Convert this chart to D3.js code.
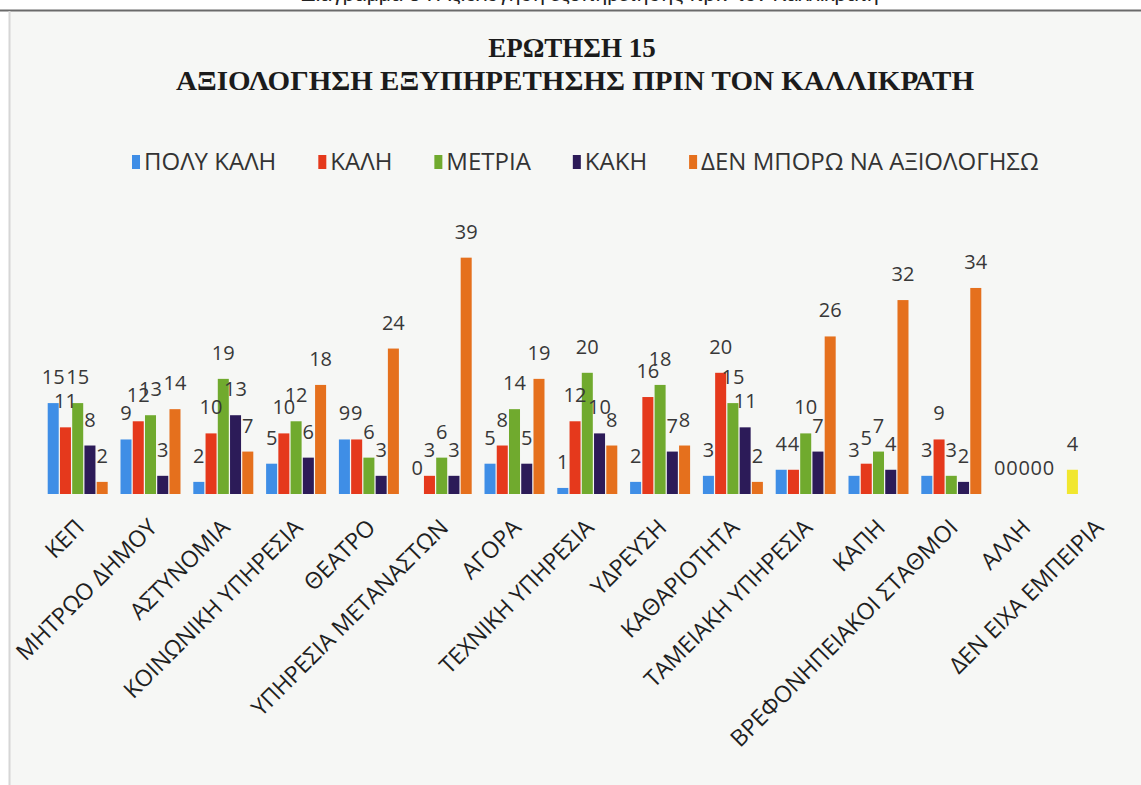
<!DOCTYPE html>
<html>
<head>
<meta charset="utf-8">
<script src="https://cdn.jsdelivr.net/npm/d3@7"></script>
<style>
  html, body { margin: 0; padding: 0; background: #ffffff; }
  svg { display: block; }
</style>
</head>
<body>
<div id="chart"></div>
<script>
// κατηγορίες (άξονας x)
const categories = [
  "ΚΕΠ", "ΜΗΤΡΩΟ ΔΗΜΟΥ", "ΑΣΤΥΝΟΜΙΑ", "ΚΟΙΝΩΝΙΚΗ ΥΠΗΡΕΣΙΑ", "ΘΕΑΤΡΟ",
  "ΥΠΗΡΕΣΙΑ ΜΕΤΑΝΑΣΤΩΝ", "ΑΓΟΡΑ", "ΤΕΧΝΙΚΗ ΥΠΗΡΕΣΙΑ", "ΥΔΡΕΥΣΗ", "ΚΑΘΑΡΙΟΤΗΤΑ",
  "ΤΑΜΕΙΑΚΗ ΥΠΗΡΕΣΙΑ", "ΚΑΠΗ", "ΒΡΕΦΟΝΗΠΕΙΑΚΟΙ ΣΤΑΘΜΟΙ", "ΑΛΛΗ", "ΔΕΝ ΕΙΧΑ ΕΜΠΕΙΡΙΑ"
];

// σειρές
const seriesNames = ["ΠΟΛΥ ΚΑΛΗ", "ΚΑΛΗ", "ΜΕΤΡΙΑ", "ΚΑΚΗ", "ΔΕΝ ΜΠΟΡΩ ΝΑ ΑΞΙΟΛΟΓΗΣΩ"];
const polyKali  = [15, 9, 2, 5, 9, 0, 5, 1, 2, 3, 4, 3, 3, 0, 4];
const kali      = [11, 12, 10, 10, 9, 3, 8, 12, 16, 20, 4, 5, 9, 0, null];
const metria    = [15, 13, 19, 12, 6, 6, 14, 20, 18, 15, 10, 7, 3, 0, null];
const kaki      = [8, 3, 13, 6, 3, 3, 5, 10, 7, 11, 7, 4, 2, 0, null];
const denMporo  = [2, 14, 7, 18, 24, 39, 19, 8, 8, 2, 26, 32, 34, 0, null];
const seriesValues = [polyKali, kali, metria, kaki, denMporo];

const colors = ["#3f8ee6", "#e5391c", "#70aa2e", "#2c1b58", "#e5701d"];
const highlightColor = "#f1e72e"; // ΔΕΝ ΕΙΧΑ ΕΜΠΕΙΡΙΑ

const width = 1141;
const height = 785;
const baseY = 494;

const svg = d3.select("#chart")
  .append("svg")
  .attr("width", width)
  .attr("height", height);

// κομμένη λεζάντα στο πάνω μέρος
svg.append("text")
  .attr("x", 590)
  .attr("y", 1)
  .attr("text-anchor", "middle")
  .attr("font-family", "Liberation Sans, sans-serif")
  .attr("font-size", 21)
  .attr("fill", "#222")
  .text("Διάγραμμα 5 : Αξιολόγηση εξυπηρέτησης πριν τον Καλλικράτη");

// περιοχή γραφήματος
svg.append("rect")
  .attr("x", 10)
  .attr("y", 11)
  .attr("width", width - 10)
  .attr("height", height - 11)
  .attr("fill", "#f6f7f5");

svg.append("line")
  .attr("x1", 0).attr("x2", width)
  .attr("y1", 10.5).attr("y2", 10.5)
  .attr("stroke", "#6a6a6a")
  .attr("stroke-width", 2);

svg.append("line")
  .attr("x1", 9.5).attr("x2", 9.5)
  .attr("y1", 11).attr("y2", height)
  .attr("stroke", "#d6d6d6")
  .attr("stroke-width", 2);

svg.append("clipPath")
  .attr("id", "area")
  .append("rect")
  .attr("x", 11).attr("y", 11)
  .attr("width", width - 11).attr("height", height - 11);

// τίτλος
const title = svg.append("text")
  .attr("text-anchor", "middle")
  .attr("font-family", "Liberation Serif, Times New Roman, serif")
  .attr("font-weight", "bold")
  .attr("font-size", 27)
  .attr("fill", "#1b1b1b");
title.append("tspan").attr("x", 572).attr("y", 57).text("ΕΡΩΤΗΣΗ 15");
title.append("tspan").attr("x", 575).attr("y", 90)
  .attr("font-size", 28)
  .attr("textLength", 798)
  .attr("lengthAdjust", "spacingAndGlyphs")
  .text("ΑΞΙΟΛΟΓΗΣΗ ΕΞΥΠΗΡΕΤΗΣΗΣ ΠΡΙΝ ΤΟΝ ΚΑΛΛΙΚΡΑΤΗ");

// υπόμνημα
const legend = svg.append("g")
  .attr("font-family", "Open Sans, sans-serif")
  .attr("font-size", 24)
  .attr("fill", "#333");
let lx = 132;
seriesNames.forEach((name, i) => {
  const item = legend.append("g").attr("transform", `translate(${lx},0)`);
  item.append("rect")
    .attr("x", 0).attr("y", 155)
    .attr("width", 8).attr("height", 14)
    .attr("fill", colors[i]);
  const t = item.append("text")
    .attr("x", 12).attr("y", 170)
    .text(name);
  lx += 12 + t.node().getComputedTextLength() + 42;
});

// κλίμακες
const x0 = d3.scaleBand()
  .domain(categories)
  .range([41.3, 1133.3])
  .paddingInner(0.176)
  .paddingOuter(0.088);

const x1 = d3.scaleBand()
  .domain(seriesNames)
  .range([0, x0.bandwidth()])
  .paddingInner(0.1);

const y = d3.scaleLinear()
  .domain([0, 45])
  .range([baseY, baseY - 45 * 6.06]);

// ράβδοι
const points = [];
categories.forEach((c, ci) => {
  seriesNames.forEach((s, si) => {
    const v = seriesValues[si][ci];
    if (v === null) return;
    points.push({ cat: c, ser: s, si: si, value: v });
  });
});

const plot = svg.append("g");

plot.selectAll("rect.bar")
  .data(points)
  .enter()
  .append("rect")
  .attr("class", "bar")
  .attr("x", d => x0(d.cat) + x1(d.ser))
  .attr("y", d => y(d.value))
  .attr("width", x1.bandwidth())
  .attr("height", d => baseY - y(d.value))
  .attr("fill", d => d.cat === "ΔΕΝ ΕΙΧΑ ΕΜΠΕΙΡΙΑ" ? highlightColor : colors[d.si]);

// ετικέτες τιμών
plot.selectAll("text.val")
  .data(points)
  .enter()
  .append("text")
  .attr("class", "val")
  .attr("x", d => x0(d.cat) + x1(d.ser) + x1.bandwidth() / 2)
  .attr("y", d => y(d.value) - 19)
  .attr("text-anchor", "middle")
  .attr("font-family", "Open Sans, sans-serif")
  .attr("font-size", 20)
  .attr("fill", "#383838")
  .text(d => d.value);

// άξονας x
const xAxis = svg.append("g")
  .attr("transform", `translate(0,${baseY})`)
  .attr("clip-path", "url(#area)")
  .call(d3.axisBottom(x0).tickSize(0).tickSizeOuter(0));

xAxis.select(".domain")
  .attr("stroke", "#9b9b9b")
  .attr("stroke-width", 1.5);

xAxis.selectAll(".tick text")
  .attr("x", 0)
  .attr("y", 0)
  .attr("dy", 0)
  .attr("transform", "translate(8,35) rotate(-45)")
  .attr("text-anchor", "end")
  .attr("font-family", "Open Sans, sans-serif")
  .attr("font-size", 23)
  .attr("fill", "#1f1f1f");
</script>
</body>
</html>
